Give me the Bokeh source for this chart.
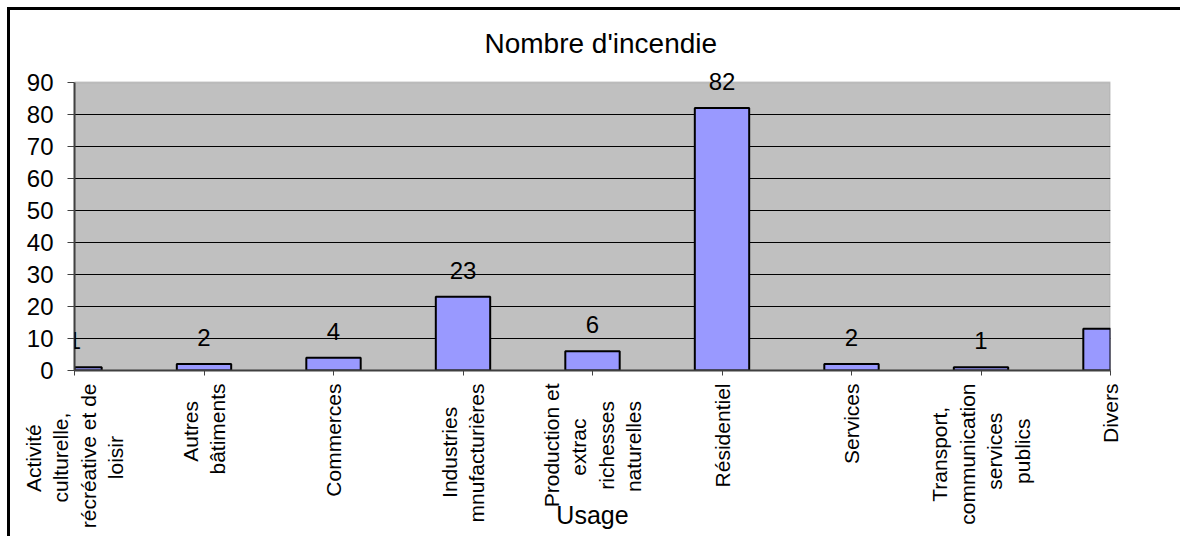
import math
from bokeh.plotting import figure
from bokeh.models import (Range1d, FixedTicker, LabelSet, ColumnDataSource,
                          BoxAnnotation)
from bokeh.core.properties import value
from bokeh.embed import file_html
from bokeh.resources import INLINE

# ---- data ----
categories = [
    "Activité\nculturelle,\nrécréative et de\nloisir",
    "Autres\nbâtiments",
    "Commerces",
    "Industries\nmnufacturières",
    "Production et\nextrac\nrichesses\nnaturelles",
    "Résidentiel",
    "Services",
    "Transport,\ncommunication\nservices\npublics",
    "Divers",
]
counts = [1, 2, 4, 23, 6, 82, 2, 1, 13]
value_labels = ["1", "2", "4", "23", "6", "82", "2", "1", ""]
y_ticks = [0, 10, 20, 30, 40, 50, 60, 70, 80, 90]
title_text = "Nombre d'incendie"
x_title = "Usage"

FONT = "Liberation Sans"
xs = list(range(len(categories)))
y_top = y_ticks[-1]

# Bokeh justifies the lines of a rotated tick label to one end; pad the shorter
# lines with no-break spaces so that the lines look centred, as in the original.
ADV = {"A": 667, "C": 722, "D": 722, "I": 278, "P": 667, "R": 722, "S": 667,
       "T": 611, "a": 556, "â": 556, "b": 556, "c": 500, "d": 556, "e": 556,
       "é": 556, "è": 556, "f": 278, "h": 556, "i": 222, "l": 222, "m": 833,
       "n": 556, "o": 556, "p": 556, "r": 333, "s": 500, "t": 278, "u": 556,
       "v": 500, "x": 500, ",": 278, " ": 278}


def centred(label):
    lines = label.split("\n")
    widths = [sum(ADV.get(ch, 556) for ch in ln) for ln in lines]
    m = max(widths)
    return "\n".join(ln + "\u00a0" * round((m - w) / 2 / 278)
                     for ln, w in zip(lines, widths))


p = figure(
    width=1180, height=536,
    x_range=Range1d(0, len(categories) - 1),
    y_range=Range1d(0, y_top + 4),   # headroom so the value labels are not clipped
    output_backend="svg", toolbar_location=None,
    min_border_left=74, min_border_right=70,
    min_border_top=69, min_border_bottom=166,
    title=title_text,
)
p.border_fill_color = None
p.styles = {
    "background": "linear-gradient(black, black) 7px 7px / 3px 100% no-repeat, "
                  "linear-gradient(black, black) 7px 7px / 100% 3px no-repeat, white"
}

p.title.align = "left"
p.title.text_font = FONT
p.title.text_font_size = "28px"
p.title.text_font_style = "normal"
p.title.text_color = "black"
p.title.standoff = 21
p.title.offset = 410

# plot area: grey only up to the top tick
p.background_fill_color = "white"
p.outline_line_color = None
p.add_layout(BoxAnnotation(top=y_top, fill_color="#C0C0C0", fill_alpha=1,
                           line_color="#8c8c8c", line_width=2, level="image"))

# y axis
p.yaxis.ticker = FixedTicker(ticks=y_ticks)
p.yaxis.bounds = (0, y_top)
p.yaxis.major_label_text_font = FONT
p.yaxis.major_label_text_font_size = "24px"
p.yaxis.major_label_text_color = "black"
p.yaxis.major_tick_out = 7
p.yaxis.major_tick_in = 0
p.yaxis.minor_tick_line_color = None
p.yaxis.axis_line_color = "#404040"
p.yaxis.axis_line_width = 2
p.yaxis.major_tick_line_color = "#404040"
p.yaxis.major_label_standoff = 14

# x axis with the category names
p.xaxis.ticker = FixedTicker(ticks=xs)
p.xaxis.major_label_overrides = {i: centred(c) for i, c in zip(xs, categories)}
p.xaxis.major_label_orientation = math.pi / 2
p.xaxis.major_label_text_font = FONT
p.xaxis.major_label_text_font_size = "21px"
p.xaxis.major_label_text_line_height = 1.2
p.xaxis.major_label_text_color = "black"
p.xaxis.major_label_standoff = 8
p.xaxis.major_tick_out = 5
p.xaxis.major_tick_in = 0
p.xaxis.minor_tick_line_color = None
p.xaxis.axis_line_color = "#404040"
p.xaxis.axis_line_width = 2
p.xaxis.major_tick_line_color = "#404040"
p.xaxis.axis_label = x_title
p.xaxis.axis_label_text_font = FONT
p.xaxis.axis_label_text_font_size = "25px"
p.xaxis.axis_label_text_font_style = "normal"
p.xaxis.axis_label_text_color = "black"
p.xaxis.axis_label_standoff = -30

p.xgrid.grid_line_color = None
p.ygrid.ticker = FixedTicker(ticks=y_ticks[1:-1])
p.ygrid.grid_line_color = "black"
p.ygrid.grid_line_width = 1

p.vbar(x=xs, top=counts, width=0.42, fill_color="#9999FF",
       line_color="black", line_width=2)

lab_x = [x for x, t in zip(xs, value_labels) if t]
lab_y = [c for c, t in zip(counts, value_labels) if t]
lab_t = [t for t in value_labels if t]
src = ColumnDataSource(dict(x=lab_x, y=lab_y, t=lab_t))
p.add_layout(LabelSet(x="x", y="y", text="t", source=src, y_offset=18,
                      text_align="center", text_baseline="alphabetic",
                      text_font=value(FONT), text_font_size=value("24px"),
                      text_color="black"))

open("out.html", "w").write(file_html(p, INLINE))
